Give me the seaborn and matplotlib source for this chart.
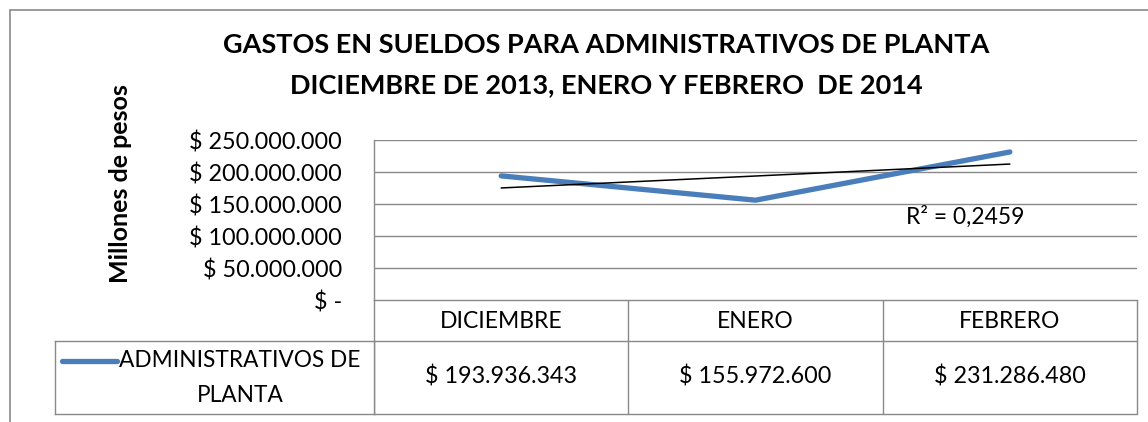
import numpy as np
import seaborn as sns
import matplotlib.pyplot as plt
from matplotlib.patches import Rectangle
from matplotlib.lines import Line2D

# datos
meses = ["DICIEMBRE", "ENERO", "FEBRERO"]
gastos = [193936343, 155972600, 231286480]
serie = "ADMINISTRATIVOS DE PLANTA"
ticks_y = [0, 50000000, 100000000, 150000000, 200000000, 250000000]

titulo_1 = "GASTOS EN SUELDOS PARA ADMINISTRATIVOS DE PLANTA"
titulo_2 = "DICIEMBRE DE 2013, ENERO Y FEBRERO  DE 2014"
etiqueta_y = "Millones de pesos"


def pesos(v):
    # formato contable de Excel
    if v == 0:
        return "$ -"
    return "$ " + f"{v:,.0f}".replace(",", ".")


sns.set_theme(style="white")
plt.rcParams['font.family'] = ['Lato', 'DejaVu Sans']
plt.rcParams['text.color'] = 'black'

W, H = 1148, 422
fig = plt.figure(figsize=(W / 100, H / 100), dpi=100)
gris = "#898989"
azul = "#4A7EBB"

# area del grafico
ax = fig.add_axes([374 / W, 1 - 300 / H, 763 / W, 160 / H])
sns.lineplot(x=meses, y=gastos, ax=ax, color=azul, lw=3.8,
             solid_capstyle="round", solid_joinstyle="round", zorder=3)
# linea de tendencia lineal
xs = np.arange(len(gastos))
sns.regplot(x=xs, y=np.array(gastos, dtype=float), ax=ax, scatter=False, ci=None,
            truncate=True, color="black", line_kws={"lw": 1.1, "zorder": 4})
r2 = np.corrcoef(xs, gastos)[0, 1] ** 2
ax.text(1.59, 130e6, f"R² = {r2:.4f}".replace(".", ","), fontsize=16.4,
        ha="left", va="center", color="black")

ax.set_xlim(-0.5, 2.5)
ax.set_ylim(0, 250000000)
ax.set_yticks(ticks_y)
ax.set_yticklabels([pesos(v) for v in ticks_y], fontsize=16.8, color="black")
ax.set_xticks([])
ax.set_xlabel("")
ax.set_ylabel("")
ax.tick_params(axis="y", length=0, pad=23)
for v in ticks_y[1:]:
    ax.axhline(v, color=gris, lw=1.0, zorder=1)
for s in ["top", "right"]:
    ax.spines[s].set_visible(False)
for s in ["left", "bottom"]:
    ax.spines[s].set_color(gris)
    ax.spines[s].set_linewidth(1.0)

# tabla de datos
tax = fig.add_axes([374 / W, 1 - 414 / H, 763 / W, 114 / H])
tax.set_xlim(-0.5, 2.5)
tax.set_ylim(114, 0)
tax.axis("off")
for i in range(len(meses) + 1):
    tax.plot([i - 0.5, i - 0.5], [0, 114], color=gris, lw=1.0, clip_on=False)
tax.plot([-0.5, 2.5], [41, 41], color=gris, lw=1.0, clip_on=False)
tax.plot([-0.5, 2.5], [114, 114], color=gris, lw=1.0, clip_on=False)
for i, (m, g) in enumerate(zip(meses, gastos)):
    tax.text(i, 21, m, ha="center", va="center", fontsize=16.5)
    tax.text(i, 77, pesos(g), ha="center", va="center", fontsize=16.8)

# celda de leyenda
lax = fig.add_axes([55 / W, 1 - 414 / H, 319 / W, 73 / H])
lax.set_xticks([])
lax.set_yticks([])
for s in lax.spines.values():
    s.set_color(gris)
    s.set_linewidth(1.0)
lax.add_line(Line2D([0.022, 0.194], [0.73, 0.73], color=azul, lw=3.8,
                    solid_capstyle="round", transform=lax.transAxes))
partes = serie.rsplit(" ", 1)
lax.text(0.58, 0.73, partes[0], ha="center", va="center", fontsize=16.3, transform=lax.transAxes)
lax.text(0.58, 0.26, partes[1], ha="center", va="center", fontsize=16.3, transform=lax.transAxes)

# titulo y eje
fig.text(606 / W, 1 - 53 / H, titulo_1, ha="center", va="baseline",
         fontsize=19.5, fontweight="bold")
fig.text(606 / W, 1 - 93 / H, titulo_2, ha="center", va="baseline",
         fontsize=19.5, fontweight="bold")
fig.text(121 / W, 1 - 184 / H, etiqueta_y, rotation=90, ha="center", va="center",
         fontsize=18, fontweight="bold")

# borde exterior
fig.add_artist(Rectangle((9.5 / W, -0.1), 2, 1.1 - 9.5 / H, transform=fig.transFigure,
                         fill=False, ec=gris, lw=1.2))

fig.savefig("out.png", dpi=100)
